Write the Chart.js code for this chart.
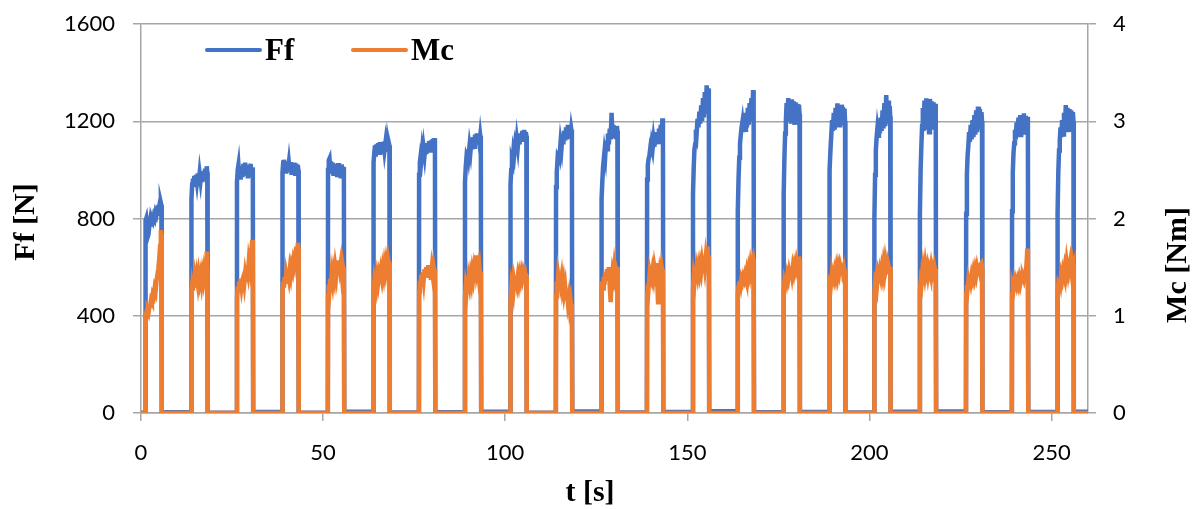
<!DOCTYPE html>
<html>
<head>
<meta charset="utf-8">
<script src="https://cdn.jsdelivr.net/npm/chart.js@4.4.0/dist/chart.umd.min.js"></script>
<style>
  html, body { margin: 0; padding: 0; background: #fff; }
</style>
</head>
<body>
<canvas id="chart" width="1201" height="509"></canvas>
<script>
// time axis ticks / ranges
const xTicks = [0, 50, 100, 150, 200, 250];
const ffTicks = [0, 400, 800, 1200, 1600];
const mcTicks = [0, 1, 2, 3, 4];

// start of each load pulse [s], and pulse length [s]
const pulseStart = [1.2, 13.8, 26.3, 38.8, 51.3, 63.8, 76.3, 88.9, 101.4, 113.9, 126.4,
  138.9, 151.5, 163.8, 176.4, 188.9, 201.3, 213.8, 226.5, 239.1, 251.6];
const pulseLength = 4.5;
const tEnd = 260;

// sample times inside a pulse (s after pulse start)
const pulseOffsets = [0.05, 0.25, 0.45, 0.65, 0.85, 1.05, 1.3, 1.55, 1.8, 2.05, 2.3, 2.55,
  2.8, 3.05, 3.3, 3.55, 3.8, 4.05, 4.25, 4.4];

// Ff [N] inside every pulse
const ffPulses = [
  [790, 800, 770, 725, 735, 765, 790, 775, 800, 790, 810, 800, 825, 815, 835, 830, 850, 840, 865, 855],
  [880, 940, 965, 930, 975, 940, 980, 950, 985, 945, 985, 955, 990, 950, 995, 960, 1005, 965, 1015, 990],
  [950, 1000, 1020, 975, 1015, 960, 1010, 970, 1025, 980, 1030, 985, 1015, 965, 1020, 980, 1025, 970, 1010, 990],
  [990, 1030, 1042, 1000, 1035, 985, 1030, 995, 1028, 990, 1032, 980, 1022, 985, 1030, 975, 1025, 985, 1020, 1000],
  [1000, 1040, 1047, 1000, 1035, 985, 1030, 975, 1025, 980, 1022, 970, 1028, 975, 1018, 965, 1022, 970, 1012, 990],
  [1030, 1070, 1100, 1055, 1105, 1065, 1110, 1070, 1115, 1075, 1112, 1065, 1116, 1080, 1110, 1075, 1115, 1085, 1110, 1100],
  [980, 1030, 1055, 1040, 1075, 1050, 1090, 1060, 1100, 1065, 1110, 1075, 1118, 1080, 1122, 1085, 1127, 1090, 1130, 1110],
  [950, 1010, 1050, 1040, 1085, 1060, 1100, 1075, 1120, 1085, 1135, 1095, 1145, 1105, 1150, 1105, 1145, 1110, 1140, 1120],
  [940, 1000, 1040, 1030, 1075, 1060, 1100, 1080, 1125, 1095, 1140, 1105, 1150, 1115, 1160, 1120, 1164, 1125, 1155, 1140],
  [930, 990, 1040, 1030, 1080, 1065, 1115, 1090, 1140, 1105, 1160, 1120, 1175, 1125, 1185, 1135, 1175, 1130, 1165, 1150],
  [880, 950, 1010, 1010, 1075, 1055, 1120, 1085, 1150, 1105, 1170, 1125, 1235, 1135, 1185, 1130, 1175, 1135, 1180, 1160],
  [960, 1020, 1045, 1055, 1080, 1065, 1105, 1085, 1125, 1095, 1145, 1105, 1155, 1115, 1170, 1125, 1185, 1135, 1212, 1160],
  [900, 1010, 1085, 1105, 1165, 1150, 1210, 1175, 1240, 1190, 1265, 1200, 1295, 1215, 1320, 1230, 1348, 1250, 1335, 1280],
  [830, 960, 1050, 1105, 1140, 1170, 1195, 1155, 1215, 1165, 1235, 1175, 1255, 1185, 1275, 1200, 1295, 1215, 1328, 1240],
  [900, 1050, 1150, 1200, 1275, 1205, 1295, 1200, 1285, 1190, 1290, 1195, 1282, 1185, 1278, 1195, 1272, 1195, 1268, 1230],
  [850, 1000, 1100, 1150, 1205, 1160, 1235, 1165, 1255, 1175, 1274, 1185, 1262, 1175, 1268, 1185, 1258, 1185, 1252, 1200],
  [800, 980, 1080, 1130, 1165, 1140, 1195, 1150, 1215, 1160, 1245, 1170, 1275, 1180, 1308, 1190, 1285, 1195, 1262, 1220],
  [820, 1000, 1100, 1180, 1255, 1160, 1285, 1165, 1294, 1175, 1288, 1155, 1292, 1165, 1282, 1175, 1278, 1165, 1272, 1200],
  [820, 980, 1060, 1100, 1155, 1115, 1185, 1125, 1205, 1135, 1225, 1145, 1245, 1155, 1260, 1165, 1250, 1175, 1238, 1200],
  [830, 990, 1070, 1110, 1165, 1125, 1195, 1135, 1215, 1145, 1225, 1135, 1220, 1145, 1233, 1145, 1222, 1155, 1218, 1180],
  [820, 990, 1080, 1120, 1175, 1135, 1205, 1145, 1235, 1155, 1267, 1165, 1255, 1155, 1250, 1165, 1245, 1165, 1238, 1200]
];

// Mc [Nm] inside every pulse
const mcPulses = [
  [1.00, 1.03, 1.01, 1.05, 1.03, 1.08, 1.10, 1.16, 1.14, 1.22, 1.20, 1.28, 1.25, 1.36, 1.42, 1.48, 1.58, 1.72, 1.88, 1.84],
  [1.22, 1.31, 1.26, 1.36, 1.29, 1.38, 1.31, 1.40, 1.33, 1.42, 1.35, 1.41, 1.34, 1.43, 1.37, 1.46, 1.40, 1.55, 1.66, 1.50],
  [1.18, 1.30, 1.24, 1.35, 1.27, 1.38, 1.30, 1.37, 1.40, 1.33, 1.43, 1.37, 1.48, 1.43, 1.56, 1.50, 1.63, 1.70, 1.78, 1.70],
  [1.22, 1.35, 1.29, 1.40, 1.33, 1.42, 1.36, 1.45, 1.39, 1.48, 1.42, 1.51, 1.47, 1.56, 1.52, 1.61, 1.58, 1.69, 1.75, 1.70],
  [1.20, 1.32, 1.27, 1.38, 1.31, 1.42, 1.35, 1.45, 1.39, 1.50, 1.43, 1.55, 1.47, 1.57, 1.49, 1.55, 1.44, 1.52, 1.47, 1.50],
  [1.25, 1.35, 1.30, 1.38, 1.32, 1.40, 1.34, 1.42, 1.37, 1.45, 1.39, 1.48, 1.42, 1.52, 1.46, 1.55, 1.49, 1.57, 1.52, 1.55],
  [1.25, 1.36, 1.30, 1.42, 1.34, 1.45, 1.37, 1.48, 1.39, 1.50, 1.41, 1.52, 1.39, 1.50, 1.37, 1.48, 1.41, 1.50, 1.45, 1.48],
  [1.20, 1.30, 1.25, 1.35, 1.29, 1.38, 1.32, 1.41, 1.35, 1.45, 1.39, 1.48, 1.42, 1.62, 1.45, 1.50, 1.41, 1.48, 1.39, 1.45],
  [1.16, 1.28, 1.23, 1.32, 1.26, 1.35, 1.29, 1.37, 1.32, 1.40, 1.34, 1.42, 1.37, 1.44, 1.39, 1.45, 1.41, 1.44, 1.39, 1.42],
  [1.20, 1.35, 1.29, 1.42, 1.37, 1.44, 1.34, 1.40, 1.29, 1.35, 1.24, 1.30, 1.19, 1.25, 1.14, 1.20, 1.09, 1.15, 1.07, 1.12],
  [1.22, 1.35, 1.28, 1.40, 1.32, 1.45, 1.36, 1.48, 1.40, 1.50, 1.30, 1.14, 1.35, 1.45, 1.40, 1.50, 1.42, 1.48, 1.45, 1.50],
  [1.22, 1.32, 1.28, 1.38, 1.33, 1.42, 1.38, 1.46, 1.40, 1.50, 1.44, 1.54, 1.40, 1.14, 1.35, 1.45, 1.40, 1.50, 1.45, 1.48],
  [1.28, 1.40, 1.35, 1.45, 1.38, 1.48, 1.42, 1.50, 1.44, 1.52, 1.46, 1.55, 1.48, 1.58, 1.50, 1.60, 1.52, 1.71, 1.55, 1.62],
  [1.22, 1.30, 1.33, 1.36, 1.32, 1.38, 1.35, 1.40, 1.37, 1.42, 1.38, 1.45, 1.40, 1.48, 1.43, 1.52, 1.46, 1.56, 1.59, 1.55],
  [1.25, 1.35, 1.32, 1.40, 1.36, 1.42, 1.38, 1.45, 1.40, 1.48, 1.42, 1.50, 1.45, 1.52, 1.48, 1.55, 1.50, 1.58, 1.61, 1.56],
  [1.25, 1.33, 1.30, 1.38, 1.34, 1.42, 1.38, 1.45, 1.40, 1.48, 1.42, 1.50, 1.45, 1.52, 1.48, 1.54, 1.46, 1.50, 1.45, 1.48],
  [1.22, 1.33, 1.30, 1.38, 1.34, 1.42, 1.37, 1.45, 1.40, 1.48, 1.42, 1.52, 1.45, 1.55, 1.48, 1.52, 1.45, 1.50, 1.47, 1.50],
  [1.25, 1.35, 1.32, 1.42, 1.38, 1.48, 1.42, 1.52, 1.45, 1.50, 1.42, 1.48, 1.44, 1.50, 1.42, 1.48, 1.44, 1.50, 1.46, 1.48],
  [1.22, 1.32, 1.28, 1.36, 1.32, 1.40, 1.35, 1.42, 1.38, 1.45, 1.40, 1.47, 1.42, 1.49, 1.44, 1.51, 1.46, 1.53, 1.54, 1.50],
  [1.22, 1.30, 1.27, 1.33, 1.29, 1.35, 1.31, 1.36, 1.32, 1.38, 1.33, 1.38, 1.35, 1.40, 1.37, 1.42, 1.40, 1.55, 1.69, 1.50],
  [1.22, 1.32, 1.30, 1.38, 1.34, 1.42, 1.38, 1.46, 1.42, 1.50, 1.45, 1.55, 1.48, 1.59, 1.50, 1.56, 1.48, 1.55, 1.50, 1.52]
];

// level between pulses (before first pulse, then after each pulse)
const ffGap = [1, 3, 1, 4, 1, 5, 2, 3, 5, 1, 6, 2, 4, 7, 3, 4, 2, 5, 6, 3, 4, 5];
const mcGap = [0, 0, 0, 0, 0, 0, 0, 0, 0, 0, 0, 0, 0, 0, 0, 0, 0, 0, 0, 0, 0, 0];

const blue = "#4472C4";
const orange = "#ED7D31";

// build {x,y} points from pulse tables
function buildSeries(pulses, gap) {
  const pts = [{ x: 0, y: gap[0] }];
  pulseStart.forEach((t0, i) => {
    pts.push({ x: t0, y: gap[i] });
    pulseOffsets.forEach((dt, j) => pts.push({ x: t0 + dt, y: pulses[i][j] }));
    pts.push({ x: t0 + pulseLength, y: gap[i + 1] });
  });
  pts.push({ x: tEnd, y: gap[gap.length - 1] });
  return pts;
}

// axis titles and legend drawn on top
const decorPlugin = {
  id: "decor",
  afterDraw(chart) {
    const ctx = chart.ctx;
    ctx.save();
    ctx.fillStyle = "#000";
    ctx.font = 'bold 30px "Liberation Serif"';
    ctx.textAlign = "center";
    ctx.textBaseline = "middle";
    ctx.fillText("t [s]", 590, 493);

    ctx.save();
    ctx.translate(26, 222);
    ctx.rotate(-Math.PI / 2);
    ctx.fillText("Ff [N]", 0, 0);
    ctx.restore();

    ctx.save();
    ctx.translate(1178, 265);
    ctx.rotate(-Math.PI / 2);
    ctx.fillText("Mc [Nm]", 0, 0);
    ctx.restore();

    // legend
    const items = [
      { x: 207, ds: chart.data.datasets[0] },
      { x: 353, ds: chart.data.datasets[1] }
    ];
    ctx.font = 'bold 31px "Liberation Serif"';
    ctx.textAlign = "left";
    ctx.textBaseline = "alphabetic";
    items.forEach(it => {
      ctx.strokeStyle = it.ds.borderColor;
      ctx.lineWidth = 4;
      ctx.lineCap = "round";
      ctx.beginPath();
      ctx.moveTo(it.x, 50);
      ctx.lineTo(it.x + 53, 50);
      ctx.stroke();
      ctx.fillText(it.ds.label, it.x + 58, 60);
    });
    ctx.restore();
  }
};

const gridColor = "#a6a6a6";
const tickFont = { family: "Lato", size: 22 };
const plainLabel = v => String(v);

// fixed axis sizes so the plot area sits where the reference has it
function fixVertical(width) {
  return s => { s.width = width; s.paddingTop = 0; s.paddingBottom = 0; };
}

new Chart(document.getElementById("chart"), {
  type: "line",
  data: {
    datasets: [
      {
        label: "Ff",
        data: buildSeries(ffPulses, ffGap),
        borderColor: blue,
        borderWidth: 4.5,
        pointRadius: 0,
        yAxisID: "y",
        order: 1
      },
      {
        label: "Mc",
        data: buildSeries(mcPulses, mcGap),
        borderColor: orange,
        borderWidth: 4.5,
        pointRadius: 0,
        yAxisID: "y2",
        order: 0
      }
    ]
  },
  options: {
    responsive: false,
    animation: false,
    devicePixelRatio: 1,
    layout: { padding: { top: 24, left: 0, right: 0, bottom: 0 } },
    plugins: { legend: { display: false }, tooltip: { enabled: false } },
    scales: {
      x: {
        type: "linear",
        min: 0,
        max: tEnd,
        afterFit: s => { s.height = 96; s.paddingLeft = 0; s.paddingRight = 0; },
        afterBuildTicks: s => { s.ticks = xTicks.map(v => ({ value: v })); },
        ticks: { font: tickFont, color: "#000", padding: 19, maxRotation: 0, callback: plainLabel },
        grid: { drawOnChartArea: false, color: gridColor, lineWidth: 1.5, tickLength: 8 },
        border: { color: gridColor, width: 1.5 }
      },
      y: {
        position: "left",
        min: 0,
        max: 1600,
        afterFit: fixVertical(141),
        afterBuildTicks: s => { s.ticks = ffTicks.map(v => ({ value: v })); },
        ticks: { font: tickFont, color: "#000", padding: 18, callback: plainLabel },
        grid: { color: gridColor, lineWidth: 1.5, tickLength: 8 },
        border: { color: gridColor, width: 1.5 }
      },
      y2: {
        position: "right",
        min: 0,
        max: 4,
        afterFit: fixVertical(113),
        afterBuildTicks: s => { s.ticks = mcTicks.map(v => ({ value: v })); },
        ticks: { font: tickFont, color: "#000", padding: 17, callback: plainLabel },
        grid: { drawOnChartArea: false, color: gridColor, lineWidth: 1.5, tickLength: 8 },
        border: { color: gridColor, width: 1.5 }
      }
    }
  },
  plugins: [decorPlugin]
});
</script>
</body>
</html>
